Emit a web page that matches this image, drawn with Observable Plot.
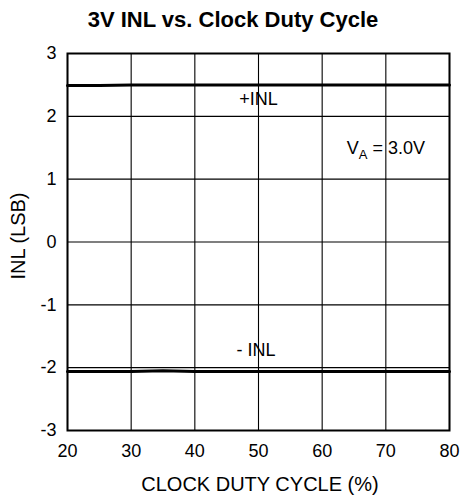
<!DOCTYPE html>
<html>
<head>
<meta charset="utf-8">
<script src="https://cdn.jsdelivr.net/npm/d3@7"></script>
<script src="https://cdn.jsdelivr.net/npm/@observablehq/plot@0.6"></script>
<style>
  html, body { margin: 0; padding: 0; background: #fff; }
  svg { font-family: "Liberation Sans", Arial, sans-serif; }
</style>
</head>
<body>
<div id="chart"></div>
<script>
const duty = [20, 25, 30, 35, 40, 45, 50, 55, 60, 65, 70, 75, 80];
const inlPos = [2.49, 2.49, 2.5, 2.5, 2.5, 2.5, 2.5, 2.5, 2.5, 2.5, 2.5, 2.5, 2.5];
const inlNeg = [-2.06, -2.06, -2.06, -2.05, -2.06, -2.06, -2.06, -2.06, -2.06, -2.06, -2.06, -2.06, -2.06];
const xTicks = [20, 30, 40, 50, 60, 70, 80];
const yTicks = [-3, -2, -1, 0, 1, 2, 3];
const labels = [
  {x: 50, y: 2.27, text: "+INL"},
  {x: 49.6, y: -1.73, text: "- INL"}
];

const posData = duty.map((d, i) => ({x: d, y: inlPos[i]}));
const negData = duty.map((d, i) => ({x: d, y: inlNeg[i]}));

const plot = Plot.plot({
  width: 464,
  height: 498,
  marginLeft: 67,
  marginRight: 15,
  marginTop: 53,
  marginBottom: 68,
  style: {fontFamily: "'Liberation Sans', Arial, sans-serif", fontSize: "18px", color: "#000", background: "#fff"},
  x: {domain: [20, 80], label: null},
  y: {domain: [-3, 3], label: null},
  marks: [
    Plot.ruleX(xTicks, {stroke: "#000", strokeWidth: 1.1}),
    Plot.ruleY(yTicks, {stroke: "#000", strokeWidth: 1.1}),
    Plot.line(posData, {x: "x", y: "y", stroke: "#000", strokeWidth: 3}),
    Plot.line(negData, {x: "x", y: "y", stroke: "#000", strokeWidth: 3}),
    Plot.text(labels, {x: "x", y: "y", text: "text", fontSize: 18, fill: "#000"}),
    Plot.frame({stroke: "#000", strokeWidth: 2}),
    Plot.axisX(xTicks, {tickSize: 0, tickPadding: 14, fontSize: 18, fill: "#000", tickFormat: d => String(d), label: null}),
    Plot.axisY(yTicks, {tickSize: 0, tickPadding: 11, fontSize: 18, fill: "#000", tickFormat: d => String(d), label: null})
  ]
});

const svg = d3.select(plot);
const xs = plot.scale("x"), ys = plot.scale("y");
// V_A = 3.0V annotation
const va = svg.append("text")
  .attr("x", xs.apply(70.1))
  .attr("y", ys.apply(1.4))
  .attr("text-anchor", "middle")
  .attr("font-size", 18)
  .attr("fill", "#000");
va.append("tspan").text("V");
va.append("tspan").attr("font-size", 13).attr("dy", 5).text("A");
va.append("tspan").attr("dy", -5).text(" = 3.0V");

// title
svg.append("text")
  .attr("x", 233).attr("y", 27)
  .attr("text-anchor", "middle")
  .attr("font-size", 22).attr("font-weight", "bold")
  .attr("fill", "#000")
  .text("3V INL vs. Clock Duty Cycle");

// axis labels
svg.append("text")
  .attr("x", 260).attr("y", 491)
  .attr("text-anchor", "middle")
  .attr("font-size", 20).attr("fill", "#000")
  .text("CLOCK DUTY CYCLE (%)");
svg.append("text")
  .attr("transform", "translate(25,236) rotate(-90)")
  .attr("text-anchor", "middle")
  .attr("font-size", 20).attr("fill", "#000")
  .text("INL (LSB)");

document.getElementById("chart").appendChild(plot);
</script>
</body>
</html>
